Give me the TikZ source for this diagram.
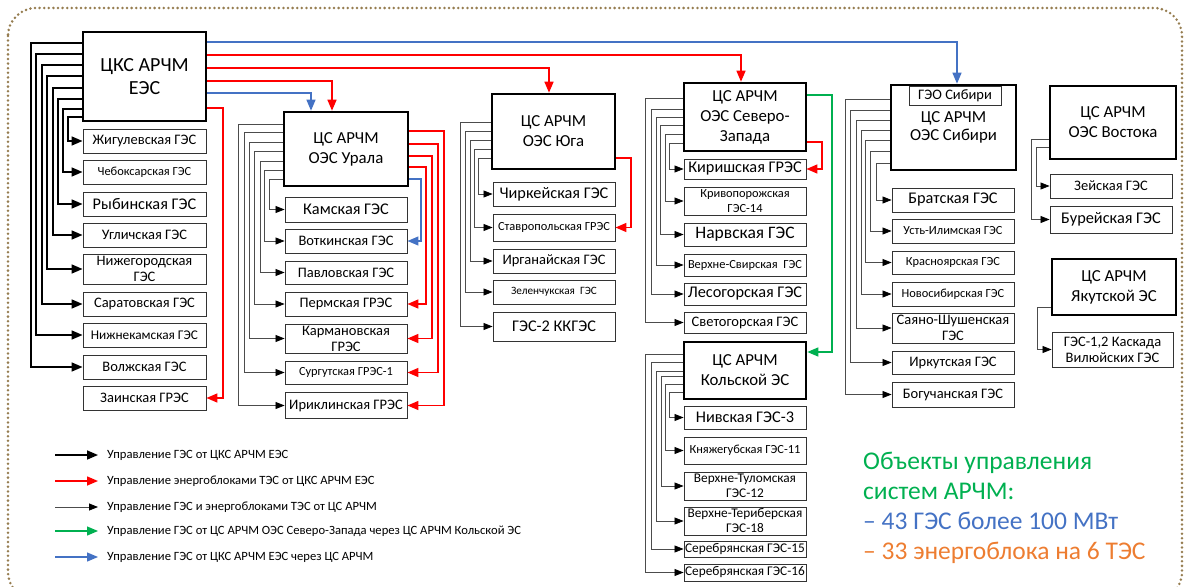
\documentclass[tikz,border=0pt]{standalone}
\usepackage{fontspec}
\setmainfont{Carlito}
\usetikzlibrary{arrows.meta}
\definecolor{arRed}{RGB}{255,0,0}
\definecolor{arBlue}{RGB}{68,114,196}
\definecolor{arGreen}{RGB}{0,176,80}
\definecolor{arOrange}{RGB}{237,125,49}
\definecolor{frameBrown}{RGB}{150,125,80}
\tikzset{
  hub/.style = {draw, line width=2.6pt, inner sep=0pt, align=center, font=\fontsize{16.8}{20}\selectfont},
  sta/.style = {draw=black!80, line width=0.9pt, inner sep=0pt, align=center, minimum width=122pt},
  labX/.style = {font=\fontsize{17.5}{18}\selectfont},
  labL/.style = {font=\fontsize{16.3}{17}\selectfont},
  labN/.style = {font=\fontsize{14.5}{16}\selectfont},
  labM/.style = {font=\fontsize{13.3}{15}\selectfont},
  labS/.style = {font=\fontsize{12.4}{15}\selectfont},
  labT/.style = {font=\fontsize{11.2}{14}\selectfont},
  ckcline/.style = {line width=1.6pt, -{Triangle[length=11pt, width=9pt]}},
  csline/.style = {draw=black!70, line width=0.8pt, -{Triangle[length=9pt, width=7pt, color=black]}},
  redline/.style = {arRed, line width=1.5pt, -{Triangle[length=11pt, width=9pt]}},
  blueline/.style = {arBlue, line width=1.3pt, -{Triangle[length=11pt, width=9pt]}},
  greenline/.style = {arGreen, line width=1.3pt, -{Triangle[length=11pt, width=9pt]}},
  legtxt/.style = {anchor=west, inner sep=0pt, font=\fontsize{12.6}{14}\selectfont}
}
\begin{document}
\begin{tikzpicture}[x=1pt, y=-1pt]
\clip (0,0) rectangle (1188,586);
\draw[frameBrown, line width=2.8pt, dash pattern=on 0pt off 4.6pt, line cap=round, rounded corners=28pt] (8,8) rectangle (1182,600);

% control centres
\node[hub, minimum width=123pt, minimum height=89pt, font=\fontsize{20}{23}\selectfont] (ckc) at (144.5,76.5) {ЦКС АРЧМ\\ЕЭС};
\node[hub, minimum width=124pt, minimum height=74pt] (ural) at (346,149) {ЦС АРЧМ\\ОЭС Урала};
\node[hub, minimum width=123pt, minimum height=75pt] (yug) at (553.5,131.5) {ЦС АРЧМ\\ОЭС Юга};
\node[hub, minimum width=122pt, minimum height=68pt] (nw) at (745,117) {ЦС АРЧМ\\ОЭС Северо-\\Запада};
\node[hub, minimum width=122pt, minimum height=57pt] (kola) at (745,370.5) {ЦС АРЧМ\\Кольской ЭС};
\node[hub, minimum width=125pt, minimum height=85pt, font=\fontsize{16.8}{18}\selectfont] (sib) at (953.5,127.5) {ЦС АРЧМ\\ОЭС Сибири};
\node[sta, minimum width=92pt, minimum height=19pt, labN] (geo) at (955,95.5) {ГЭО Сибири};
\node[hub, minimum width=126pt, minimum height=73pt] (vost) at (1113,122.5) {ЦС АРЧМ\\ОЭС Востока};
\node[hub, minimum width=124pt, minimum height=56pt] (yak) at (1114,287) {ЦС АРЧМ\\Якутской ЭС};

% stations
\foreach \n/\y/\h/\f/\lab in {zhig/141/24/labN/Жигулевская ГЭС, cheb/172/24/labS/Чебоксарская ГЭС, ryb/204/24/labL/Рыбинская ГЭС, ugl/235/24/labN/Угличская ГЭС, nizh/269/30/labN/{Нижегородская\\ГЭС}, sar/304/24/labN/Саратовская ГЭС, nkam/335/24/labM/Нижнекамская ГЭС, volzh/367/24/labN/Волжская ГЭС, zain/398/24/labN/Заинская ГРЭС}
  \node[sta, minimum width=123pt, minimum height=\h pt, \f] (\n) at (144.5,\y) {\lab};
\foreach \n/\y/\h/\f/\lab in {kam/209.5/25/labL/Камская ГЭС, votk/241/24/labN/Воткинская ГЭС, pavl/272.5/23/labN/Павловская ГЭС, perm/304/24/labN/Пермская ГРЭС, karm/338.5/29/labN/{Кармановская\\ГРЭС}, surg/372.5/23/labS/Сургутская ГРЭС-1, irik/405.5/26/labN/Ириклинская ГРЭС}
  \node[sta, minimum height=\h pt, \f] (\n) at (346,\y) {\lab};
\foreach \n/\y/\h/\f/\lab in {chirk/194/24/labL/Чиркейская ГЭС, stav/227.5/27/labS/Ставропольская ГРЭС, irg/261/24/labN/Ирганайская ГЭС, zel/292/24/labT/Зеленчукская\ \ ГЭС, kkg/326.5/29/labL/ГЭС-2 ККГЭС}
  \node[sta, minimum height=\h pt, \f] (\n) at (554,\y) {\lab};
\foreach \n/\y/\h/\f/\lab in {kir/169/20/labL/Киришская ГРЭС, kriv/201/28/labS/{Кривопорожская\\ГЭС-14}, narv/234.5/23/labX/Нарвская ГЭС, vsvir/265/22/labS/Верхне-Свирская\ \ ГЭС, les/294/22/labL/Лесогорская ГЭС, svet/322.5/21/labN/Светогорская ГЭС}
  \node[sta, minimum height=\h pt, \f] (\n) at (745,\y) {\lab};
\foreach \n/\y/\h/\f/\lab in {niv/417.5/23/labL/Нивская ГЭС-3, knyazh/450.5/27/labS/Княжегубская ГЭС-11, vtul/486/28/labM/{Верхне-Туломская\\ГЭС-12}, vter/521/28/labM/{Верхне-Териберская\\ГЭС-18}, ser15/549/16/labM/Серебрянская ГЭС-15, ser16/572.5/17/labM/Серебрянская ГЭС-16}
  \node[sta, minimum height=\h pt, \f] (\n) at (745,\y) {\lab};
\foreach \n/\y/\h/\f/\lab in {brat/200/24/labL/Братская ГЭС, ustil/231/24/labS/Усть-Илимская ГЭС, krasn/262.5/23/labS/Красноярская ГЭС, novos/294/24/labS/Новосибирская ГЭС, sayan/328/30/labN/{Саяно-Шушенская\\ГЭС}, irkut/362.5/23/labN/Иркутская ГЭС, boguch/394.5/25/labN/Богучанская ГЭС}
  \node[sta, minimum height=\h pt, \f] (\n) at (953,\y) {\lab};
\node[sta, minimum height=24pt, labN] (zei) at (1111,186) {Зейская ГЭС};
\node[sta, minimum height=27pt, labL] (bur) at (1111,219.5) {Бурейская ГЭС};
\node[sta, minimum width=121pt, minimum height=35pt, labN] (vil) at (1112.5,349.5) {ГЭС-1,2 Каскада\\Вилюйских ГЭС};

% ЦКС АРЧМ ЕЭС -> its own stations
\foreach \ey/\vx/\n in {117/68/zhig, 109/63/cheb, 99/58/ryb, 88/53/ugl, 76/47/nizh, 65/42/sar, 54/36/nkam, 43/31/volzh}
  \draw[ckcline] (ckc.west |- 0,\ey) -- (\vx,\ey) |- (\n.west);
% ЦКС АРЧМ ЕЭС -> centres and thermal units
\draw[blueline] (ckc.east |- 0,42) -| (957,0 |- sib.north);
\draw[redline] (ckc.east |- 0,55) -| (741,0 |- nw.north);
\draw[redline] (ckc.east |- 0,68) -| (549,0 |- yug.north);
\draw[redline] (ckc.east |- 0,81) -| (332,0 |- ural.north);
\draw[blueline] (ckc.east |- 0,93) -| (311,0 |- ural.north);
\draw[redline] (ckc.east |- 0,108) -- (223,108) |- (zain.east);
\foreach \ey/\vx/\n/\st in {131/444/irik/redline, 144/438/surg/redline, 156/432/karm/redline, 167/426/perm/redline, 179/421/votk/blueline}
  \draw[\st] (ural.east |- 0,\ey) -- (\vx,\ey) |- (\n.east);
\draw[redline] (yug.east |- 0,158) -- (631,158) |- (stav.east);
\draw[redline] (nw.east |- 0,142) -- (822,142) |- (kir.east);
\draw[greenline] (nw.east |- 0,95) -- (832,95) |- (kola.east |- 0,352);

% ЦС АРЧМ -> stations
\foreach \ey/\vx/\n in {179/269/kam, 170/264/votk, 161/260/pavl, 151/254/perm, 142/249/karm, 132/244/surg, 124/238/irik}
  \draw[csline] (ural.west |- 0,\ey) -- (\vx,\ey) |- (\n.west);
\foreach \ey/\vx/\n in {158/478/chirk, 149/474/stav, 140/470/irg, 131/465/zel, 122/460/kkg}
  \draw[csline] (yug.west |- 0,\ey) -- (\vx,\ey) |- (\n.west);
\foreach \ey/\vx/\n in {143/669/kir, 134/665/kriv, 125/660/narv, 117/656/vsvir, 109/651/les, 98/645/svet}
  \draw[csline] (nw.west |- 0,\ey) -- (\vx,\ey) |- (\n.west);
\foreach \ey/\vx/\n in {392/669/niv, 384/665/knyazh, 376/661/vtul, 371/656/vter, 362/651/ser15, 354/645/ser16}
  \draw[csline] (kola.west |- 0,\ey) -- (\vx,\ey) |- (\n.west);
\foreach \ey/\vx/\n in {163/876/brat, 151/870/ustil, 140/865/krasn, 130/861/novos, 120/856/sayan, 110/850/irkut, 99/845/boguch}
  \draw[csline] (sib.west |- 0,\ey) -- (\vx,\ey) |- (\n.west);
\draw[csline] (vost.west |- 0,139) -- (1031,139) |- (bur.west);
\draw[csline] (vost.west |- 0,147) -- (1036,147) |- (zei.west);
\draw[csline] (yak.west |- 0,307) -- (1037,307) |- (vil.west);

% legend
\foreach \y/\st/\lab [count=\i] in {455/ckcline/{Управление ГЭС от ЦКС АРЧМ ЕЭС}, 481/redline/{Управление энергоблоками ТЭС от ЦКС АРЧМ ЕЭС}, 507/csline/{Управление ГЭС и энергоблоками ТЭС от ЦС АРЧМ}, 531/greenline/{Управление ГЭС от ЦС АРЧМ ОЭС Северо-Запада через ЦС АРЧМ Кольской ЭС}, 557/blueline/{Управление ГЭС от ЦКС АРЧМ ЕЭС через ЦС АРЧМ}}{
  \draw[\st] (55,\y) coordinate (lga\i) -- (98,\y) coordinate (lgb\i);
  \node[legtxt] (lgt\i) at (107,\y) {\lab};
}

% summary
\node[anchor=north west, align=left, inner sep=0pt, font=\fontsize{25.5}{30}\selectfont] (summary) at (863,452)
  {\textcolor{arGreen}{Объекты управления}\\\textcolor{arGreen}{систем АРЧМ:}\\\textcolor{arBlue}{– 43 ГЭС более 100 МВт}\\\textcolor{arOrange}{– 33 энергоблока на 6 ТЭС}};
\end{tikzpicture}
\end{document}
